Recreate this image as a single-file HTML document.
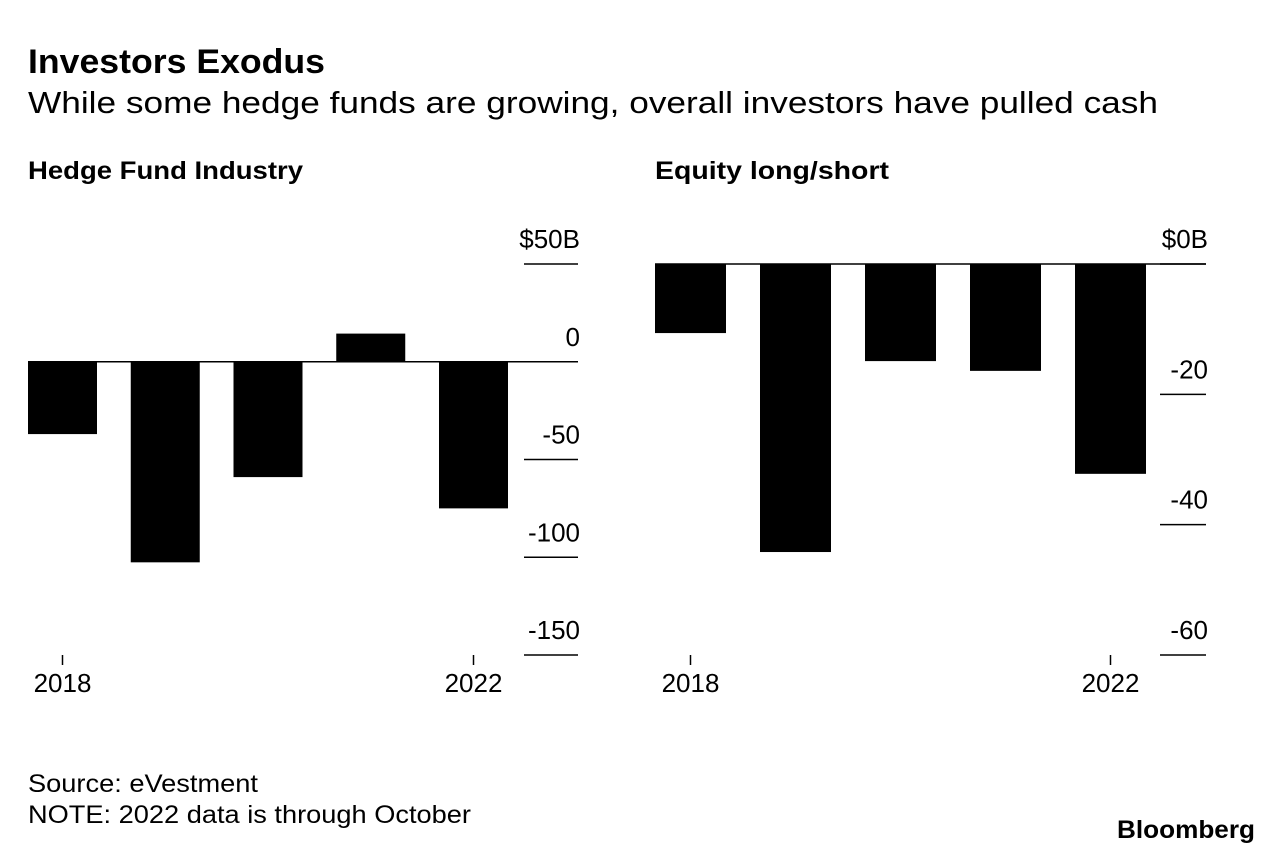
<!DOCTYPE html>
<html><head><meta charset="utf-8"><style>
body{margin:0;width:1283px;height:854px;background:#fff;font-family:"Liberation Sans",sans-serif;color:#000;overflow:hidden}
</style></head><body>
<svg width="1283" height="854" font-family="Liberation Sans, sans-serif">
<text x="28" y="73" font-size="34" font-weight="bold" textLength="297" lengthAdjust="spacingAndGlyphs">Investors Exodus</text>
<text x="28" y="113" font-size="31" textLength="1130" lengthAdjust="spacingAndGlyphs">While some hedge funds are growing, overall investors have pulled cash</text>
<text x="28" y="179" font-size="25" font-weight="bold" textLength="275" lengthAdjust="spacingAndGlyphs">Hedge Fund Industry</text>
<text x="655" y="179" font-size="25" font-weight="bold" textLength="234" lengthAdjust="spacingAndGlyphs">Equity long/short</text>
<g id="left"></g><g id="right"></g>
<text x="28" y="792" font-size="25" textLength="230" lengthAdjust="spacingAndGlyphs">Source: eVestment</text>
<text x="28" y="823" font-size="25" textLength="443" lengthAdjust="spacingAndGlyphs">NOTE: 2022 data is through October</text>
<text x="1117" y="838" font-size="25" font-weight="bold" textLength="138" lengthAdjust="spacingAndGlyphs">Bloomberg</text>
</svg>
<script>
const years=[2018,2019,2020,2021,2022];
const hfValues=[-37,-102.6,-59,14.4,-75];
const hfTicks=[50,0,-50,-100,-150];
const hfTickLabels=["$50B","0","-50","-100","-150"];
const elsValues=[-10.6,-44.2,-14.9,-16.4,-32.2];
const elsTicks=[0,-20,-40,-60];
const elsTickLabels=["$0B","-20","-40","-60"];
const xLabelYears=[2018,2022];
const NS="http://www.w3.org/2000/svg";
function mk(g,t,a){const e=document.createElementNS(NS,t);for(const k in a)e.setAttribute(k,a[k]);g.appendChild(e);return e;}
function draw(gid,vals,ticks,labels,o){
 const g=document.getElementById(gid);
 const y=v=>o.y0+(o.vmax-v)*(o.y1-o.y0)/(o.vmax-o.vmin);
 const x=i=>o.x0+i*o.step;
 ticks.forEach((t,i)=>{
  const l=mk(g,'line',{x1:o.tx0,x2:o.tx1,y1:y(t),y2:y(t),stroke:'#000','stroke-width':1.5});
  
  
  const tx=mk(g,'text',{x:o.tx1+2,y:y(t)-16,'font-size':26,'text-anchor':'end'});
  tx.textContent=labels[i];
  
  
 });
 vals.forEach((v,i)=>{
  const top=Math.min(y(v),y(0)),h=Math.abs(y(v)-y(0));
  const r=mk(g,'rect',{x:x(i),y:top,width:o.bw,height:h,fill:'#000'});
  
  
 });
 const z=mk(g,'line',{x1:o.x0,x2:o.tx1,y1:y(0),y2:y(0),stroke:'#000','stroke-width':1.5});
 
 
 xLabelYears.forEach(yr=>{
  const i=years.indexOf(yr),cx=x(i)+o.bw/2;
  const tk=mk(g,'line',{x1:cx,x2:cx,y1:o.y1,y2:o.y1+10,stroke:'#000','stroke-width':1.5});
  
  
  const t=mk(g,'text',{x:cx,y:o.y1+37,'font-size':26,'text-anchor':'middle'});
  t.textContent=yr;
  
  
 });
}
draw('left',hfValues,hfTicks,hfTickLabels,{x0:28,step:102.75,bw:69,y0:264,y1:655,vmax:50,vmin:-150,tx0:524,tx1:578});
draw('right',elsValues,elsTicks,elsTickLabels,{x0:655,step:105,bw:71,y0:264,y1:655,vmax:0,vmin:-60,tx0:1160,tx1:1206});
</script>
</body></html>
